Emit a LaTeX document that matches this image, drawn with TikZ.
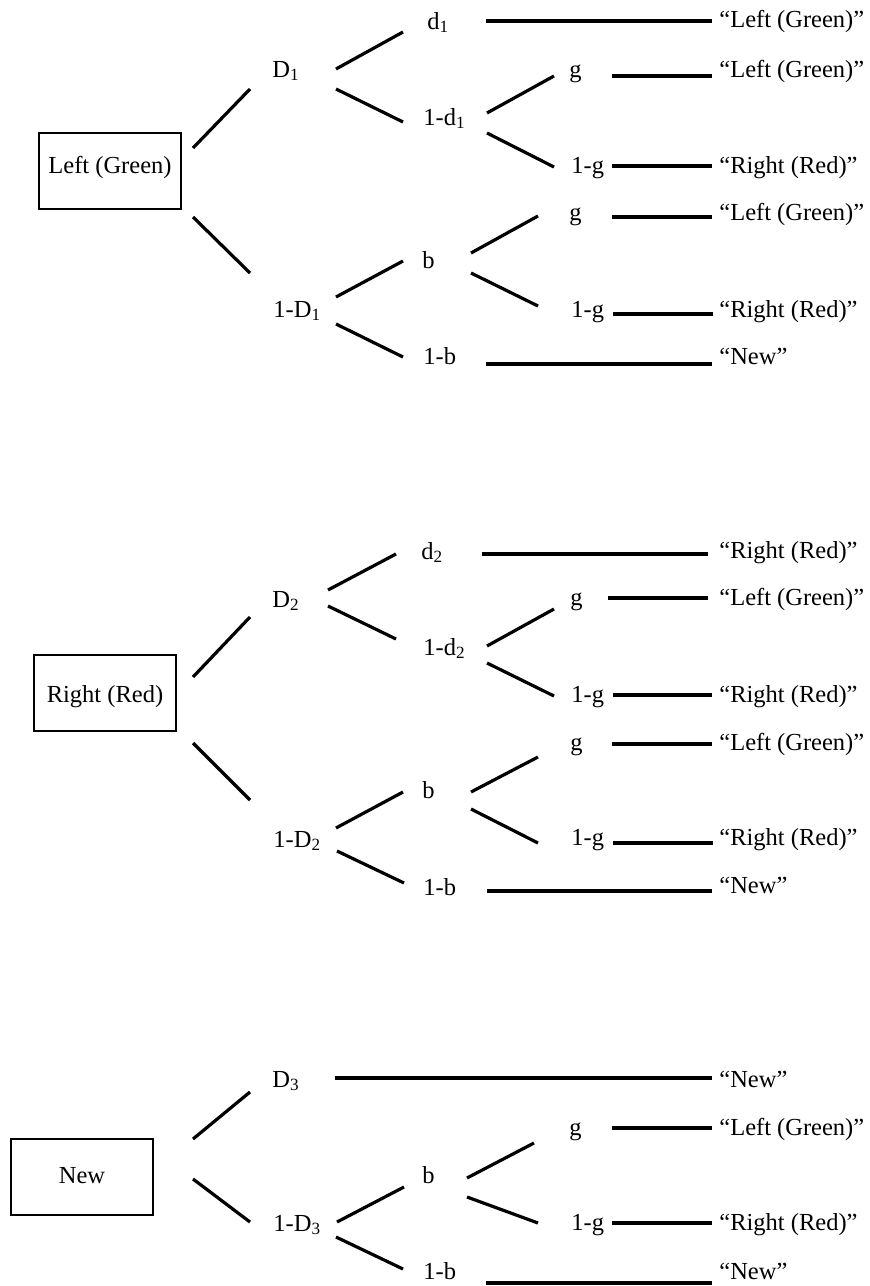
\documentclass[tikz,border=0pt]{standalone}
\usepackage{fontspec}
\setmainfont{Liberation Serif}
\begin{document}
\begin{tikzpicture}[x=0.5pt,y=-0.5pt,
  lbl/.style={anchor=base west, inner sep=0pt, font=\fontsize{12.25}{14}\selectfont},
  box/.style={draw, line width=1pt, minimum width=71pt, minimum height=38pt, inner sep=0pt,
              font=\fontsize{12.25}{14}\selectfont, text height=12pt},
  br/.style={line width=1.6pt}]
\useasboundingbox (0,0) rectangle (869,1286);

% ---------------- Section 1 ----------------
\node[box, text depth=10pt] (B1) at (110,171) {Left (Green)};
\node[lbl] (D1)   at (272,77)  {D\textsubscript{1}};
\node[lbl] (d1)   at (427,29)  {d\textsubscript{1}};
\node[lbl] (m1)   at (423,125) {1-d\textsubscript{1}};
\node[lbl] (g1a)  at (569,77)  {g};
\node[lbl] (ng1a) at (571,173) {1-g};
\node[lbl] (mD1)  at (273,317) {1-D\textsubscript{1}};
\node[lbl] (b1)   at (422,268) {b};
\node[lbl] (nb1)  at (423,364) {1-b};
\node[lbl] (g1b)  at (569,220) {g};
\node[lbl] (ng1b) at (571,317) {1-g};
\node[lbl] (L1a)  at (719,27)  {“Left (Green)”};
\node[lbl] (L1b)  at (719,77)  {“Left (Green)”};
\node[lbl] (R1a)  at (719,173) {“Right (Red)”};
\node[lbl] (L1c)  at (719,220) {“Left (Green)”};
\node[lbl] (R1b)  at (719,317) {“Right (Red)”};
\node[lbl] (N1)   at (719,364) {“New”};

\draw[br] ([shift={(11,-23)}]B1.east) -- ([shift={(-22,12)}]D1.base west);
\draw[br] ([shift={(11,46)}]B1.east) -- ([shift={(-23,-44)}]mD1.base west);
\draw[br] ([shift={(64,-8)}]D1.base west) -- ([shift={(-24,3)}]d1.base west);
\draw[br] ([shift={(64,12)}]D1.base west) -- ([shift={(-20,-3)}]m1.base west);
\draw[br] ([shift={(64,-12)}]m1.base west) -- ([shift={(-15,-1)}]g1a.base west);
\draw[br] ([shift={(64,8)}]m1.base west) -- ([shift={(-17,-6)}]ng1a.base west);
\draw[br] ([shift={(63,-20)}]mD1.base west) -- ([shift={(-19,-7)}]b1.base west);
\draw[br] ([shift={(63,7)}]mD1.base west) -- ([shift={(-20,-7)}]nb1.base west);
\draw[br] ([shift={(49,-15)}]b1.base west) -- ([shift={(-31,-4)}]g1b.base west);
\draw[br] ([shift={(49,5)}]b1.base west) -- ([shift={(-33,-11)}]ng1b.base west);
\draw[br] ([shift={(59,-8)}]d1.base west) -- ([shift={(-7,-6)}]L1a.base west);
\draw[br] ([shift={(43,-1)}]g1a.base west) -- ([shift={(-7,-1)}]L1b.base west);
\draw[br] ([shift={(41,-7)}]ng1a.base west) -- ([shift={(-7,-7)}]R1a.base west);
\draw[br] ([shift={(43,-3)}]g1b.base west) -- ([shift={(-7,-3)}]L1c.base west);
\draw[br] ([shift={(42,-3)}]ng1b.base west) -- ([shift={(-6,-3)}]R1b.base west);
\draw[br] ([shift={(63,0)}]nb1.base west) -- ([shift={(-7,0)}]N1.base west);

% ---------------- Section 2 ----------------
\node[box, text depth=3pt] (B2) at (105,693) {Right (Red)};
\node[lbl] (D2)   at (272,607) {D\textsubscript{2}};
\node[lbl] (d2)   at (421,559) {d\textsubscript{2}};
\node[lbl] (m2)   at (423,655) {1-d\textsubscript{2}};
\node[lbl] (g2a)  at (570,605) {g};
\node[lbl] (ng2a) at (571,702) {1-g};
\node[lbl] (mD2)  at (273,847) {1-D\textsubscript{2}};
\node[lbl] (b2)   at (422,798) {b};
\node[lbl] (nb2)  at (423,895) {1-b};
\node[lbl] (g2b)  at (570,750) {g};
\node[lbl] (ng2b) at (571,845) {1-g};
\node[lbl] (R2a)  at (719,558) {“Right (Red)”};
\node[lbl] (L2a)  at (719,605) {“Left (Green)”};
\node[lbl] (R2b)  at (719,702) {“Right (Red)”};
\node[lbl] (L2b)  at (719,750) {“Left (Green)”};
\node[lbl] (R2c)  at (719,845) {“Right (Red)”};
\node[lbl] (N2)   at (719,893) {“New”};

\draw[br] ([shift={(16,-16)}]B2.east) -- ([shift={(-22,10)}]D2.base west);
\draw[br] ([shift={(16,50)}]B2.east) -- ([shift={(-23,-47)}]mD2.base west);
\draw[br] ([shift={(56,-17)}]D2.base west) -- ([shift={(-25,-5)}]d2.base west);
\draw[br] ([shift={(56,-1)}]D2.base west) -- ([shift={(-27,-16)}]m2.base west);
\draw[br] ([shift={(64,-9)}]m2.base west) -- ([shift={(-16,4)}]g2a.base west);
\draw[br] ([shift={(64,8)}]m2.base west) -- ([shift={(-17,-6)}]ng2a.base west);
\draw[br] ([shift={(63,-19)}]mD2.base west) -- ([shift={(-19,-6)}]b2.base west);
\draw[br] ([shift={(64,4)}]mD2.base west) -- ([shift={(-19,-12)}]nb2.base west);
\draw[br] ([shift={(49,-6)}]b2.base west) -- ([shift={(-32,7)}]g2b.base west);
\draw[br] ([shift={(49,11)}]b2.base west) -- ([shift={(-33,-2)}]ng2b.base west);
\draw[br] ([shift={(61,-5)}]d2.base west) -- ([shift={(-11,-4)}]R2a.base west);
\draw[br] ([shift={(38,-7)}]g2a.base west) -- ([shift={(-11,-7)}]L2a.base west);
\draw[br] ([shift={(42,-7)}]ng2a.base west) -- ([shift={(-7,-7)}]R2b.base west);
\draw[br] ([shift={(42,-6)}]g2b.base west) -- ([shift={(-7,-6)}]L2b.base west);
\draw[br] ([shift={(42,-2)}]ng2b.base west) -- ([shift={(-6,-2)}]R2c.base west);
\draw[br] ([shift={(64,-4)}]nb2.base west) -- ([shift={(-7,-2)}]N2.base west);

% ---------------- Section 3 ----------------
\node[box, text depth=6pt] (B3) at (82,1177) {New};
\node[lbl] (D3)   at (272,1087) {D\textsubscript{3}};
\node[lbl] (mD3)  at (273,1231) {1-D\textsubscript{3}};
\node[lbl] (b3)   at (422,1183) {b};
\node[lbl] (nb3)  at (423,1279) {1-b};
\node[lbl] (g3)   at (569,1135) {g};
\node[lbl] (ng3)  at (571,1230) {1-g};
\node[lbl] (N3a)  at (719,1087) {“New”};
\node[lbl] (L3)   at (719,1135) {“Left (Green)”};
\node[lbl] (R3)   at (719,1230) {“Right (Red)”};
\node[lbl] (N3b)  at (719,1279) {“New”};

\draw[br] ([shift={(39,-38)}]B3.east) -- ([shift={(-22,5)}]D3.base west);
\draw[br] ([shift={(39,2)}]B3.east) -- ([shift={(-23,-9)}]mD3.base west);
\draw[br] ([shift={(63,-9)}]D3.base west) -- ([shift={(-7,-9)}]N3a.base west);
\draw[br] ([shift={(64,-9)}]mD3.base west) -- ([shift={(-18,4)}]b3.base west);
\draw[br] ([shift={(63,6)}]mD3.base west) -- ([shift={(-20,-10)}]nb3.base west);
\draw[br] ([shift={(45,-5)}]b3.base west) -- ([shift={(-35,8)}]g3.base west);
\draw[br] ([shift={(45,14)}]b3.base west) -- ([shift={(-33,-7)}]ng3.base west);
\draw[br] ([shift={(43,-7)}]g3.base west) -- ([shift={(-7,-7)}]L3.base west);
\draw[br] ([shift={(41,-7)}]ng3.base west) -- ([shift={(-7,-7)}]R3.base west);
\draw[br] ([shift={(63,4)}]nb3.base west) -- ([shift={(-7,4)}]N3b.base west);
\end{tikzpicture}
\end{document}
